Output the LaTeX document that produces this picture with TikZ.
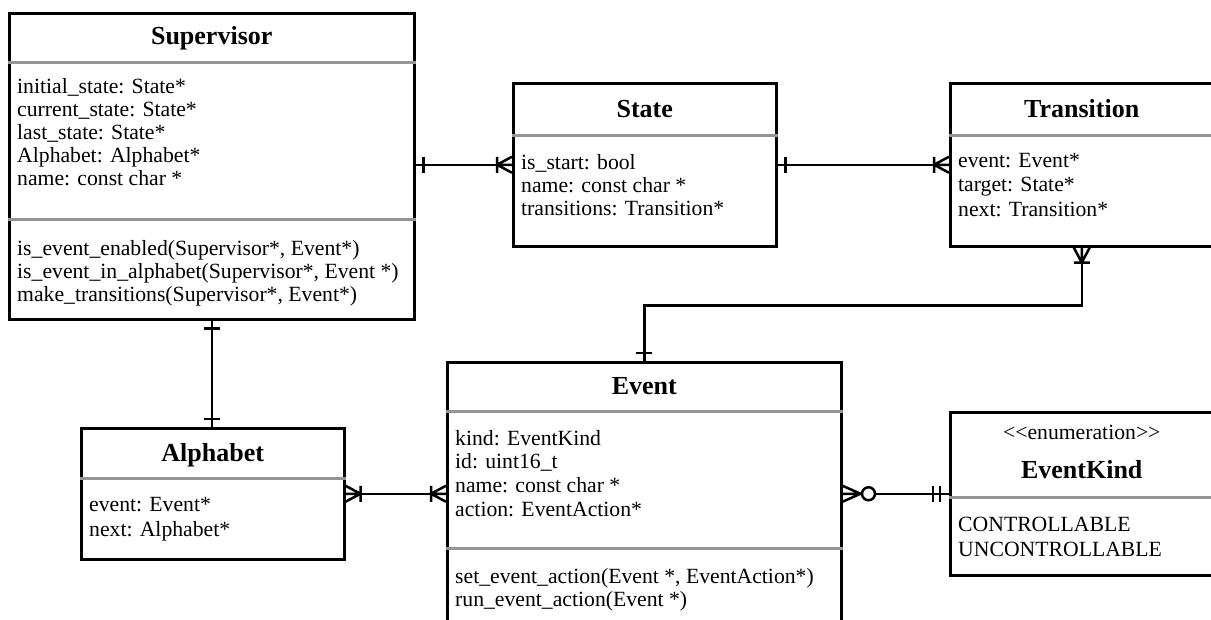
\documentclass[tikz,border=0pt]{standalone}
\usepackage{fontspec}
\setmainfont{Liberation Serif}
\usetikzlibrary{calc}

\begin{document}
\begin{tikzpicture}[
  x=1pt, y=-1pt,
  every node/.style={font=\fontsize{21.7}{23}\selectfont},
  umlbox/.style={draw, line width=2.5pt, fill=white, anchor=north west, inner sep=0pt, minimum width=263pt},
  ttl/.style={font=\fontsize{26}{30}\selectfont\bfseries, anchor=base, inner sep=0pt},
  attr/.style={align=left, anchor=north west, inner sep=0pt},
  sep/.style={draw=black!42, line width=3pt},
  conn/.style={line width=2.5pt},
  one/.pic={\draw[conn] (8,-8) -- (8,8);},
  onlyone/.pic={\draw[conn] (9,-8) -- (9,8) (16,-8) -- (16,8);},
  onemany/.pic={\draw[conn] (0,-8) -- (15,0) -- (0,8) (0,0) -- (15,0) (15,-8) -- (15,8);},
  zeromany/.pic={\draw[conn] (0,-8) -- (18,0) -- (0,8) (0,0) -- (18,0);
                 \draw[conn, fill=white] (26,0) circle (6.5pt);}
]
\useasboundingbox (0,0) rectangle (1211,619);
\clip (0,0) rectangle (1211,619);
\fill[white] (0,0) rectangle (1211,619);

% classes
\node[umlbox, minimum width=405pt, minimum height=306pt] (sup) at (8,12) {};
\node[umlbox, minimum height=163pt] (state) at (512,82) {};
\node[umlbox, minimum height=163pt] (trans) at (949,82) {};
\node[umlbox, minimum height=131pt] (alpha) at (80,427) {};
\node[umlbox, minimum width=394pt, minimum height=290pt] (event) at (446,361) {};
\node[umlbox, minimum height=163pt] (kind) at (949,411) {};

% compartments
\draw[sep] (sup.west |- 0,62) -- (sup.east |- 0,62);
\draw[sep] (sup.west |- 0,219) -- (sup.east |- 0,219);
\draw[sep] (state.west |- 0,135) -- (state.east |- 0,135);
\draw[sep] (trans.west |- 0,135) -- (trans.east |- 0,135);
\draw[sep] (alpha.west |- 0,478) -- (alpha.east |- 0,478);
\draw[sep] (event.west |- 0,411) -- (event.east |- 0,411);
\draw[sep] (event.west |- 0,548) -- (event.east |- 0,548);
\draw[sep] (kind.west |- 0,497) -- (kind.east |- 0,497);

% names
\node[ttl] (supT) at ($(sup.north)+(0,32)$) {Supervisor};
\node[ttl] (stateT) at ($(state.north)+(0,35)$) {State};
\node[ttl] (transT) at ($(trans.north)+(0,35)$) {Transition};
\node[ttl] (alphaT) at ($(alpha.north)+(0,34)$) {Alphabet};
\node[ttl] (eventT) at ($(event.north)+(0,33)$) {Event};
\node[anchor=base, inner sep=0pt] (kindS) at ($(kind.north)+(0,28)$) {<\kern0pt<enumeration>\kern0pt>};
\node[ttl] (kindT) at ($(kind.north)+(0,67)$) {EventKind};

% members
\node[attr] (supA) at (17,78) {initial\_state: State*\\ current\_state: State*\\ last\_state: State*\\
  Alphabet: Alphabet*\\ name: const char *};
\node[attr] (supM) at (17,240) {is\_event\_enabled(Supervisor*, Event*)\\
  is\_event\_in\_alphabet(Supervisor*, Event *)\\ make\_transitions(Supervisor*, Event*)};
\node[attr] (stateA) at (521,154) {is\_start: bool\\ name: const char *\\ transitions: Transition*};
\node[attr, font=\fontsize{21.7}{24.5}\selectfont] (transA) at (958,153) {event: Event*\\ target: State*\\ next: Transition*};
\node[attr, font=\fontsize{21.7}{25}\selectfont] (alphaA) at (89,497) {event: Event*\\ next: Alphabet*};
\node[attr, font=\fontsize{21.7}{23.7}\selectfont] (eventA) at (455,430) {kind: EventKind\\ id: uint16\_t\\ name: const char *\\ action: EventAction*};
\node[attr] (eventM) at (455,568) {set\_event\_action(Event *, EventAction*)\\ run\_event\_action(Event *)};
\node[attr, font=\fontsize{21.7}{24.5}\selectfont] (kindA) at (958,517) {CONTROLLABLE\\ UNCONTROLLABLE};

% relations
\draw[conn] (sup.east |- state.west) -- (state.west);
\pic at (sup.east |- state.west) {one};
\pic[rotate=180] at (state.west) {onemany};

\draw[conn] (state.east) -- (trans.west);
\pic at (state.east) {one};
\pic[rotate=180] at (trans.west) {onemany};

\draw[conn] (trans.south) -- ++(0,58) -| (event.north);
\pic[rotate=-90] at (trans.south) {onemany};
\pic[rotate=90] at (event.north) {one};

\draw[conn] (sup.south) -- (sup.south |- alpha.north);
\pic[rotate=-90] at (sup.south) {one};
\pic[rotate=90] at (sup.south |- alpha.north) {one};

\draw[conn] (alpha.east) -- (alpha.east -| event.west);
\pic at (alpha.east) {onemany};
\pic[rotate=180] at (alpha.east -| event.west) {onemany};

\draw[conn] (kind.west -| event.east) -- (kind.west);
\pic at (kind.west -| event.east) {zeromany};
\pic[rotate=180] at (kind.west) {onlyone};
\end{tikzpicture}
\end{document}
